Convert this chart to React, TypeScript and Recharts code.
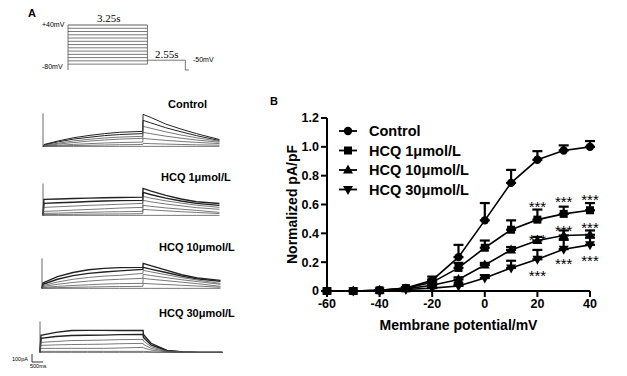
import React from "react";
import { ComposedChart, LineChart, Line, XAxis, YAxis, ErrorBar, Legend } from "recharts";

const FONT = "'Liberation Sans', Arial, Helvetica, sans-serif";
const SERIF = "'Liberation Serif', 'Times New Roman', serif";

// ---- B: normalized I-V ----
const voltages = [-60, -50, -40, -30, -20, -10, 0, 10, 20, 30, 40];
const xTicks = [-60, -40, -20, 0, 20, 40];
const yTicks = [0, 0.2, 0.4, 0.6, 0.8, 1.0, 1.2];

const controlMean = [0, 0, 0.005, 0.02, 0.075, 0.235, 0.49, 0.75, 0.91, 0.975, 1.0];
const controlSem = [0, 0, 0, 0.005, 0.025, 0.085, 0.12, 0.09, 0.06, 0.035, 0.04];
const hcq1Mean = [0, 0, 0.005, 0.02, 0.06, 0.16, 0.3, 0.425, 0.495, 0.535, 0.56];
const hcq1Sem = [0, 0, 0, 0.005, 0.02, 0.035, 0.05, 0.065, 0.07, 0.05, 0.05];
const hcq10Mean = [0, 0, 0.005, 0.015, 0.04, 0.08, 0.18, 0.285, 0.35, 0.385, 0.39];
const hcq10Sem = [0, 0, 0, 0, 0.01, 0.015, 0.015, 0.02, 0.025, 0.035, 0.03];
const hcq30Mean = [0, 0, 0, 0.01, 0.02, 0.035, 0.09, 0.16, 0.22, 0.29, 0.32];
const hcq30Sem = [0, 0, 0, 0, 0.005, 0.01, 0.02, 0.05, 0.065, 0.065, 0.05];

// where the *** marks sit (y in pA/pF units)
const sigVoltages = [20, 30, 40];
const hcq1Sig = [0.61, 0.64, 0.655];
const hcq10Sig = [0.38, 0.44, 0.46];
const hcq30Sig = [0.125, 0.21, 0.23];

type Shape = "circle" | "square" | "up" | "down";
const seriesNames = ["Control", "HCQ 1μmol/L", "HCQ 10μmol/L", "HCQ 30μmol/L"];
const seriesShapes: Shape[] = ["circle", "square", "up", "down"];
const means = [controlMean, hcq1Mean, hcq10Mean, hcq30Mean];
const sems = [controlSem, hcq1Sem, hcq10Sem, hcq30Sem];

// ---- A: voltage protocol ----
const stepLevels = [40, 30, 20, 10, 0, -10, -20, -30, -40, -50, -60, -70, -80];
const holdLevel = -98; // hold line is drawn just under the -80 mV step in the figure
const tailLevel = -68;
const stepEnd = 3.25;
const tailEnd = 4.8;
const sweepEnd = 4.95;

// ---- A: current traces (pA), one array per sweep ----
const traceTimes = [0, 0.03, 0.5, 1, 1.5, 2, 2.5, 3.25, 3.26, 3.5, 4, 4.5, 5, 5.75];
const holdTrace = [0, 0, 0, 0, 0, 0, 0, 0, 0, 0, 0, 0, 0, 0];

const controlTraces = [
  [0, 20, 60, 95, 120, 140, 155, 165, 352, 320, 245, 190, 140, 75],
  [0, 15, 50, 80, 100, 118, 130, 140, 286, 260, 205, 160, 118, 65],
  [0, 10, 35, 60, 78, 92, 102, 110, 220, 200, 160, 125, 95, 55],
  [0, 5, 25, 42, 58, 70, 80, 88, 154, 140, 112, 90, 70, 45],
  [0, 3, 12, 22, 30, 37, 42, 47, 88, 80, 66, 54, 44, 30],
  [0, 1, 5, 9, 12, 15, 18, 20, 33, 30, 25, 21, 17, 13],
  holdTrace,
];
const hcq1Traces = [
  [0, 176, 180, 185, 190, 193, 196, 200, 297, 270, 220, 180, 150, 130],
  [0, 132, 138, 145, 152, 158, 162, 165, 253, 230, 190, 158, 132, 110],
  [0, 88, 95, 102, 110, 116, 122, 132, 209, 190, 160, 135, 112, 88],
  [0, 44, 50, 58, 65, 72, 80, 88, 165, 150, 125, 105, 85, 66],
  [0, 22, 25, 30, 34, 38, 40, 44, 110, 100, 82, 68, 55, 33],
  [0, 8, 10, 12, 14, 15, 16, 18, 66, 60, 50, 40, 32, 20],
  holdTrace,
];
const hcq10Traces = [
  [0, 60, 130, 175, 205, 220, 228, 231, 275, 250, 200, 150, 115, 88],
  [0, 45, 100, 140, 165, 180, 192, 209, 231, 212, 175, 135, 105, 77],
  [0, 30, 70, 100, 120, 135, 143, 165, 198, 182, 150, 118, 92, 55],
  [0, 20, 45, 65, 80, 92, 100, 110, 154, 142, 118, 95, 75, 44],
  [0, 10, 22, 32, 40, 47, 52, 55, 110, 100, 85, 68, 52, 22],
  [0, 4, 8, 12, 15, 18, 20, 22, 55, 50, 42, 34, 26, 12],
  holdTrace,
];
const hcq30Traces = [
  [0, 187, 220, 240, 242, 242, 240, 242, 198, 100, 22, 5, 0, 0],
  [0, 154, 175, 185, 188, 190, 195, 198, 165, 82, 18, 4, 0, 0],
  [0, 110, 120, 130, 132, 135, 140, 143, 125, 62, 14, 3, 0, 0],
  [0, 77, 82, 86, 88, 90, 95, 99, 88, 44, 10, 2, 0, 0],
  [0, 44, 44, 44, 44, 44, 48, 55, 50, 25, 6, 1, 0, 0],
  [0, 11, 11, 11, 11, 11, 11, 11, 12, 6, 2, 0, 0, 0],
  holdTrace,
];
// capacitive spike at step onset
const spikePeaks = [363, 350, 330, 340];

function marker(shape: Shape, cx: number, cy: number, key?: string | number) {
  if (shape === "circle") return <circle key={key} cx={cx} cy={cy} r={4.2} fill="#000" />;
  if (shape === "square") return <rect key={key} x={cx - 4} y={cy - 4} width={8} height={8} fill="#000" />;
  if (shape === "up")
    return <polygon key={key} points={`${cx},${cy - 5.5} ${cx - 5},${cy + 3.5} ${cx + 5},${cy + 3.5}`} fill="#000" />;
  return <polygon key={key} points={`${cx},${cy + 5.5} ${cx - 5},${cy - 3.5} ${cx + 5},${cy - 3.5}`} fill="#000" />;
}

function TracePanel({ traces, peak, left, top, width, noisy }: { traces: number[][]; peak: number; left: number; top: number; width: number; noisy?: boolean }) {
  const rows = traceTimes.map((t, i) => {
    const r: Record<string, number> = { t };
    traces.forEach((tr, k) => {
      r[`s${k}`] = tr[i];
    });
    return r;
  });
  const spike = [
    { t: 0, s: 0 },
    { t: 0, s: peak },
  ];
  return (
    <div style={{ position: "absolute", left: left - 2, top: top - 2 }}>
      <LineChart width={width + 4} height={44} data={rows} margin={{ top: 2, right: 2, bottom: 2, left: 2 }}>
        <XAxis dataKey="t" type="number" domain={[0, 5.8]} hide />
        <YAxis type="number" domain={[-40, 400]} hide />
        {traces.map((_, k) => (
          <Line
            key={k}
            dataKey={`s${k}`}
            type="linear"
            stroke={k < 2 ? "#222" : "#555"}
            strokeWidth={k < 2 ? (noisy ? 1.4 : 1) : 0.8}
            dot={false}
            activeDot={false}
            isAnimationActive={false}
          />
        ))}
        <Line data={spike} dataKey="s" stroke="#444" strokeWidth={0.8} dot={false} activeDot={false} isAnimationActive={false} />
      </LineChart>
    </div>
  );
}

function Protocol() {
  const steps = stepLevels.map((v) => [
    { t: 0, v },
    { t: stepEnd, v },
  ]);
  const leftEdge = [
    { t: 0, v: holdLevel },
    { t: 0, v: stepLevels[0] },
  ];
  const rightEdge = [
    { t: stepEnd, v: stepLevels[stepLevels.length - 1] },
    { t: stepEnd, v: stepLevels[0] },
  ];
  const tail = [
    { t: stepEnd, v: tailLevel },
    { t: tailEnd, v: tailLevel },
    { t: tailEnd, v: holdLevel },
    { t: sweepEnd, v: holdLevel },
  ];
  const all = [...steps, leftEdge, rightEdge, tail];
  return (
    <div style={{ position: "absolute", left: 66, top: 23 }}>
      <LineChart width={125} height={49} margin={{ top: 2, right: 2, bottom: 2, left: 2 }}>
        <XAxis dataKey="t" type="number" domain={[0, sweepEnd]} hide />
        <YAxis type="number" domain={[holdLevel, 40]} hide />
        {all.map((d, k) => (
          <Line
            key={k}
            data={d}
            dataKey="v"
            stroke={k === 0 ? "#333" : "#555"}
            strokeWidth={0.8}
            dot={false}
            activeDot={false}
            isAnimationActive={false}
          />
        ))}
      </LineChart>
    </div>
  );
}

const tickStyle = { fill: "#000", fontSize: 12.5, fontWeight: "bold" as const, fontFamily: FONT };

function LegendBox() {
  return (
    <svg width={170} height={80}>
      {seriesNames.map((name, i) => {
        const y = 9 + i * 19.5;
        return (
          <g key={name}>
            <line x1={0} x2={18} y1={y} y2={y} stroke="#000" strokeWidth={1.8} />
            {marker(seriesShapes[i], 9, y)}
            <text x={30} y={y} dominantBaseline="central" fontFamily={FONT} fontWeight="bold" fontSize={14.5} fill="#000">
              {name}
            </text>
          </g>
        );
      })}
    </svg>
  );
}

function StarDot(props: any) {
  const { cx, cy, index } = props;
  if (cx == null || cy == null) return <g key={`st-${index}`} />;
  return (
    <text key={`st-${index}`} x={cx} y={cy + 8.5} textAnchor="middle" fontFamily={FONT} fontSize={15} fill="#000">
      ***
    </text>
  );
}

function IVChart() {
  const rows = voltages.map((v, i) => {
    const r: Record<string, any> = { v };
    means.forEach((m, k) => {
      r[`s${k}`] = m[i];
      r[`e${k}`] = [0, sems[k][i]];
    });
    return r;
  });
  const stars = sigVoltages.flatMap((v, i) => [
    { v, y: hcq1Sig[i] },
    { v, y: hcq10Sig[i] },
    { v, y: hcq30Sig[i] },
  ]);
  return (
    <div style={{ position: "absolute", left: 270, top: 100 }}>
      <ComposedChart width={340} height={250} data={rows} margin={{ top: 18, right: 20, bottom: 0, left: 0 }}>
        <XAxis
          dataKey="v"
          type="number"
          domain={[-60, 40]}
          ticks={xTicks}
          interval={0}
          height={59}
          tick={tickStyle}
          tickSize={6}
          tickMargin={2}
          axisLine={{ stroke: "#000", strokeWidth: 2 }}
          tickLine={{ stroke: "#000", strokeWidth: 2 }}
          label={(p: any) => {
            const vb = p.viewBox;
            return (
              <text x={vb.x + vb.width / 2} y={vb.y + 34} textAnchor="middle" dominantBaseline="central" fontFamily={FONT} fontWeight="bold" fontSize={14} fill="#000">
                Membrane potential/mV
              </text>
            );
          }}
        />
        <YAxis
          type="number"
          domain={[0, 1.2]}
          ticks={yTicks}
          interval={0}
          width={57}
          tick={tickStyle}
          tickSize={6}
          tickMargin={2}
          tickFormatter={(v: number) => (v === 0 ? "0" : v.toFixed(1))}
          axisLine={{ stroke: "#000", strokeWidth: 2 }}
          tickLine={{ stroke: "#000", strokeWidth: 2 }}
          label={(p: any) => {
            const vb = p.viewBox;
            const x = vb.x + 22;
            const y = vb.y + vb.height / 2;
            return (
              <text x={x} y={y} transform={`rotate(-90 ${x} ${y})`} textAnchor="middle" dominantBaseline="central" fontFamily={FONT} fontWeight="bold" fontSize={14} fill="#000">
                Normalized pA/pF
              </text>
            );
          }}
        />
        <Legend layout="vertical" align="center" verticalAlign="middle" content={() => <LegendBox />} wrapperStyle={{ left: 69, top: 22, width: 170 }} />
        {seriesNames.map((name, k) => (
          <Line
            key={name}
            name={name}
            dataKey={`s${k}`}
            type="linear"
            stroke="#000"
            strokeWidth={1.6}
            dot={(p: any) => marker(seriesShapes[k], p.cx, p.cy, `m${k}-${p.index}`)}
            activeDot={false}
            isAnimationActive={false}
          >
            <ErrorBar dataKey={`e${k}`} direction="y" width={5} stroke="#000" strokeWidth={2.2} />
          </Line>
        ))}
        <Line data={stars} dataKey="y" stroke="none" dot={StarDot} activeDot={false} legendType="none" isAnimationActive={false} />
      </ComposedChart>
    </div>
  );
}

export default function App() {
  const txt = { fontFamily: FONT, fill: "#000" };
  return (
    <div style={{ position: "absolute", left: 0, top: 0, width: 627, height: 376, background: "#fff", overflow: "hidden" }}>
      <Protocol />
      <TracePanel traces={controlTraces} peak={spikePeaks[0]} left={43} top={110} width={178} />
      <TracePanel traces={hcq1Traces} peak={spikePeaks[1]} left={43} top={179} width={178} noisy />
      <TracePanel traces={hcq10Traces} peak={spikePeaks[2]} left={42} top={252} width={180} noisy />
      <TracePanel traces={hcq30Traces} peak={spikePeaks[3]} left={40} top={316} width={184} noisy />
      <IVChart />
      <svg width={627} height={376} style={{ position: "absolute", left: 0, top: 0, pointerEvents: "none" }}>
        <text x={28} y={13} dominantBaseline="central" fontSize={11} fontWeight="bold" {...txt}>A</text>
        <text x={270} y={101} dominantBaseline="central" fontSize={11} fontWeight="bold" {...txt}>B</text>
        <text x={42} y={24} dominantBaseline="central" fontSize={7} {...txt}>+40mV</text>
        <text x={42} y={66} dominantBaseline="central" fontSize={7} {...txt}>-80mV</text>
        <text x={193} y={59} dominantBaseline="central" fontSize={7} {...txt}>-50mV</text>
        <text x={97} y={18} dominantBaseline="central" fontSize={11} fontFamily={SERIF} fill="#000">3.25s</text>
        <text x={155} y={54} dominantBaseline="central" fontSize={11} fontFamily={SERIF} fill="#000">2.55s</text>
        <text x={168} y={104} dominantBaseline="central" fontSize={11} fontWeight="bold" {...txt}>Control</text>
        <text x={161} y={177} dominantBaseline="central" fontSize={11} fontWeight="bold" {...txt}>HCQ 1μmol/L</text>
        <text x={159} y={247} dominantBaseline="central" fontSize={11} fontWeight="bold" {...txt}>HCQ 10μmol/L</text>
        <text x={159} y={313} dominantBaseline="central" fontSize={11} fontWeight="bold" {...txt}>HCQ 30μmol/L</text>
        <text x={12} y={359} dominantBaseline="central" fontSize={5.5} {...txt}>100pA</text>
        <text x={30} y={366} dominantBaseline="central" fontSize={5.5} {...txt}>500ms</text>
        <line x1={32} x2={32} y1={354} y2={362} stroke="#000" strokeWidth={0.8} />
        <line x1={32} x2={43} y1={362} y2={362} stroke="#000" strokeWidth={0.8} />
      </svg>
    </div>
  );
}
